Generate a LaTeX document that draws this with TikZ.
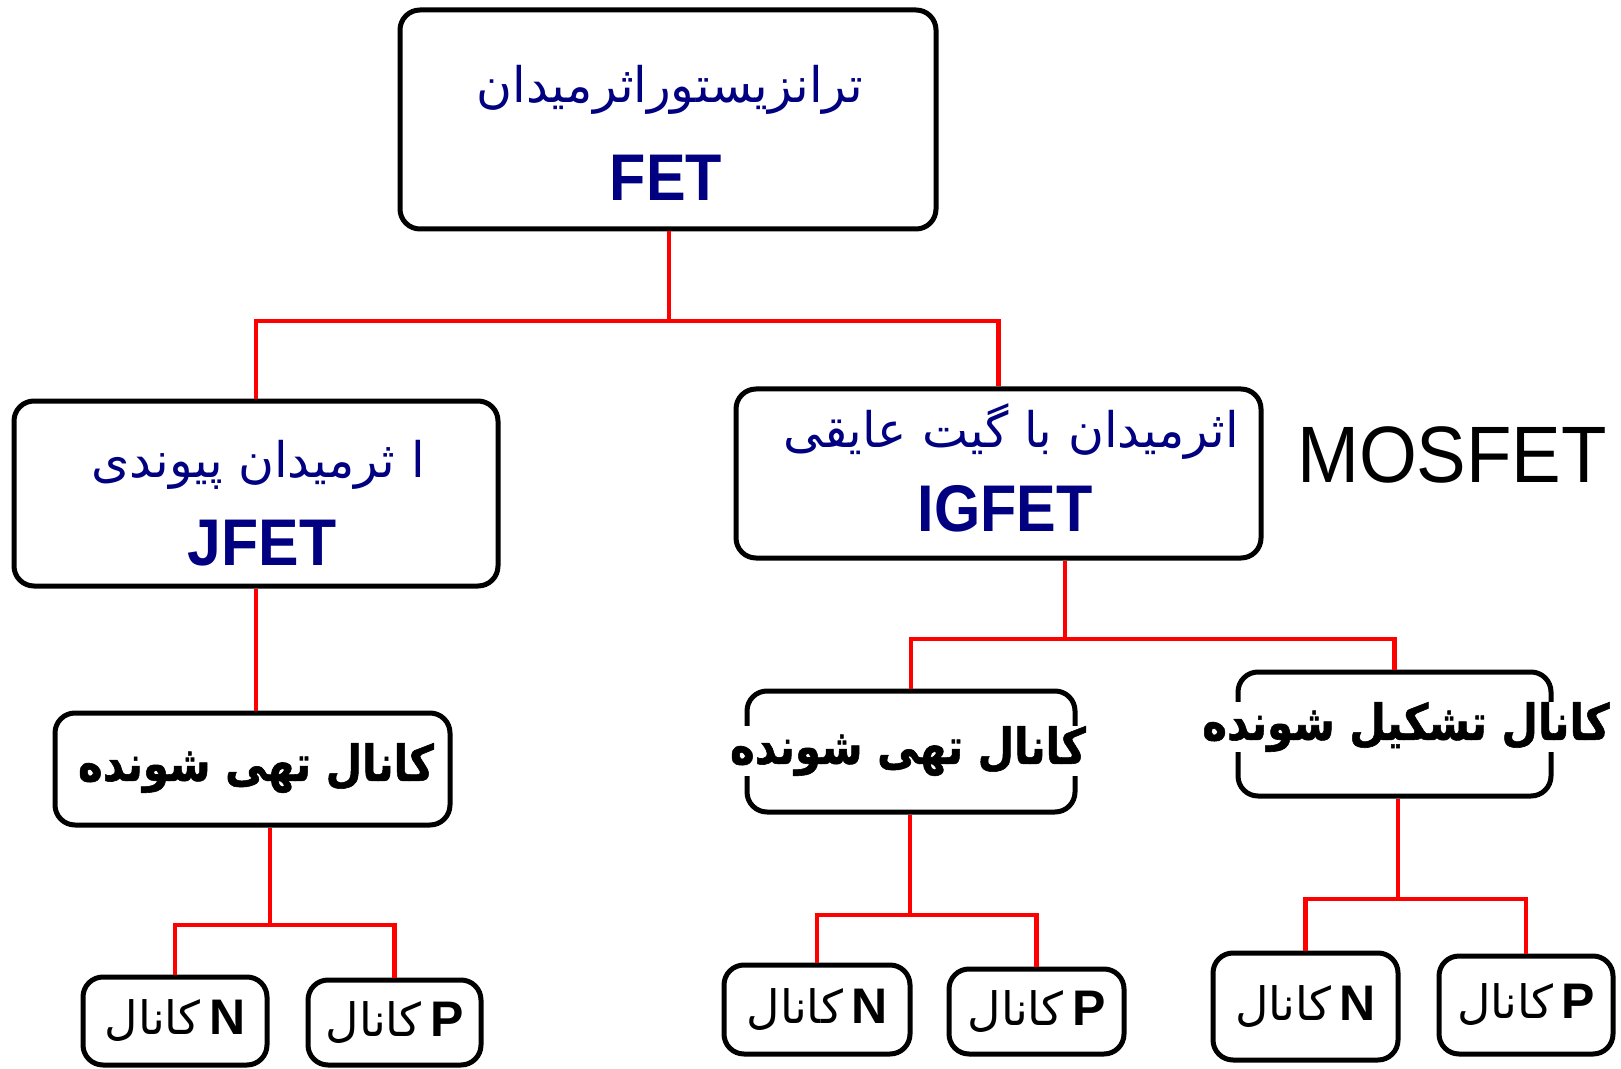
\documentclass[tikz,border=0pt]{standalone}
\usepackage{fontspec}
\setmainfont{Liberation Sans}
\newfontfamily\arabicfont[Script=Arabic]{DejaVu Sans}
\newfontfamily\arabicheavy[Script=Arabic, FakeBold=1.2]{DejaVu Sans Bold}
\TeXXeTstate=1
\usepackage{xcolor}
\usepackage{tikz}
\definecolor{navytext}{RGB}{0,0,128}
\tikzset{
	unitbox/.style={draw, line width=2.5pt, rounded corners=10pt, inner sep=0pt},
	link/.style={red, line width=2.2pt},
	fatext/.style={text=navytext, inner sep=0pt, font=\arabicfont\fontsize{24.5}{28}\selectfont},
	latext/.style={text=navytext, inner sep=0pt, font=\bfseries\fontsize{33}{36}\selectfont},
	chantext/.style={fill=white, inner sep=0pt, font=\arabicheavy\fontsize{21}{26}\selectfont},
	typetext/.style={inner sep=0pt, font=\fontsize{25}{28}\selectfont}
}
\newcommand{\fa}[1]{\beginR #1\endR}
\newcommand{\chan}[1]{{\arabicfont\fontsize{23}{28}\selectfont\fa{کانال}}\,\textbf{#1}}
\begin{document}
\begin{tikzpicture}[x=0.5pt, y=-0.5pt]
	\useasboundingbox (0,0) rectangle (1621,1069);
	% level 0
	\node[unitbox, minimum width=268pt, minimum height=109.5pt] (fet) at (668,119.5) {};
	\node[fatext] (fetfa) at (670,90) {\fa{ترانزیستوراثرمیدان}};
	\node[latext] (fetlat) at (666,178) {\scalebox{0.9}[1]{FET}};
	% level 1
	\node[unitbox, minimum width=242pt, minimum height=92.5pt] (jfet) at (256,493.5) {};
	\node[fatext] (jfetfa) at (258,465) {\fa{ا ثرمیدان پیوندی}};
	\node[latext] (jfetlat) at (262,543) {\scalebox{0.92}[1]{JFET}};
	\node[unitbox, minimum width=262.5pt, minimum height=84.5pt] (igfet) at (998.5,473.5) {};
	\node[fatext] (igfetfa) at (1011,432) {\fa{اثرمیدان با گیت عایقی}};
	\node[latext] (igfetlat) at (1005,509) {\scalebox{0.9}[1]{IGFET}};
	\node[inner sep=0pt, font=\fontsize{40}{44}\selectfont] (mosfet) at (1452,455) {\scalebox{0.93}[1]{MOSFET}};
	% level 2
	\node[unitbox, minimum width=197.5pt, minimum height=56pt] (depL) at (252.5,769) {};
	\node[chantext] (depLt) at (256,768) {\scalebox{1}[1.18]{\fa{کانال تهی شونده}}};
	\node[unitbox, minimum width=164pt, minimum height=60.5pt] (depM) at (911,751.5) {};
	\node[chantext] (depMt) at (908,751) {\scalebox{1}[1.18]{\fa{کانال تهی شونده}}};
	\node[unitbox, minimum width=156.5pt, minimum height=62pt] (enh) at (1394.5,734) {};
	\node[chantext] (enht) at (1406,727) {\scalebox{1}[1.18]{\fa{کانال تشکیل شونده}}};
	% level 3
	\node[unitbox, minimum width=92pt, minimum height=44pt] (nL) at (175,1021) {};
	\node[typetext] at (nL) {\chan{N}};
	\node[unitbox, minimum width=86.5pt, minimum height=42.5pt] (pL) at (394.5,1022.5) {};
	\node[typetext] at (pL) {\chan{P}};
	\node[unitbox, minimum width=93pt, minimum height=44.5pt] (nM) at (817,1009.5) {};
	\node[typetext] at (nM) {\chan{N}};
	\node[unitbox, minimum width=87.5pt, minimum height=42.5pt] (pM) at (1036.5,1011.5) {};
	\node[typetext] at (pM) {\chan{P}};
	\node[unitbox, minimum width=92.5pt, minimum height=53.5pt] (nR) at (1305.5,1006.5) {};
	\node[typetext] at (nR) {\chan{N}};
	\node[unitbox, minimum width=87pt, minimum height=49pt] (pR) at (1526,1005) {};
	\node[typetext] at (pR) {\chan{P}};
	% links
	\coordinate (b0) at (669,321);
	\coordinate (bI) at (1065,639);
	\coordinate (bL) at (270,925);
	\coordinate (bM) at (910,915);
	\coordinate (bR) at (1398,899);
	\draw[link] (fet.south -| b0) -- (b0);
	\draw[link] (jfet.north) |- (b0) -| (igfet.north);
	\draw[link] (jfet.south) -- (jfet.south |- depL.north);
	\draw[link] (igfet.south -| bI) -- (bI);
	\draw[link] (depM.north) |- (bI) -| (enh.north);
	\draw[link] (depL.south -| bL) -- (bL);
	\draw[link] (nL.north) |- (bL) -| (pL.north);
	\draw[link] (depM.south -| bM) -- (bM);
	\draw[link] (nM.north) |- (bM) -| (pM.north);
	\draw[link] (enh.south -| bR) -- (bR);
	\draw[link] (nR.north) |- (bR) -| (pR.north);
\end{tikzpicture}
\end{document}
